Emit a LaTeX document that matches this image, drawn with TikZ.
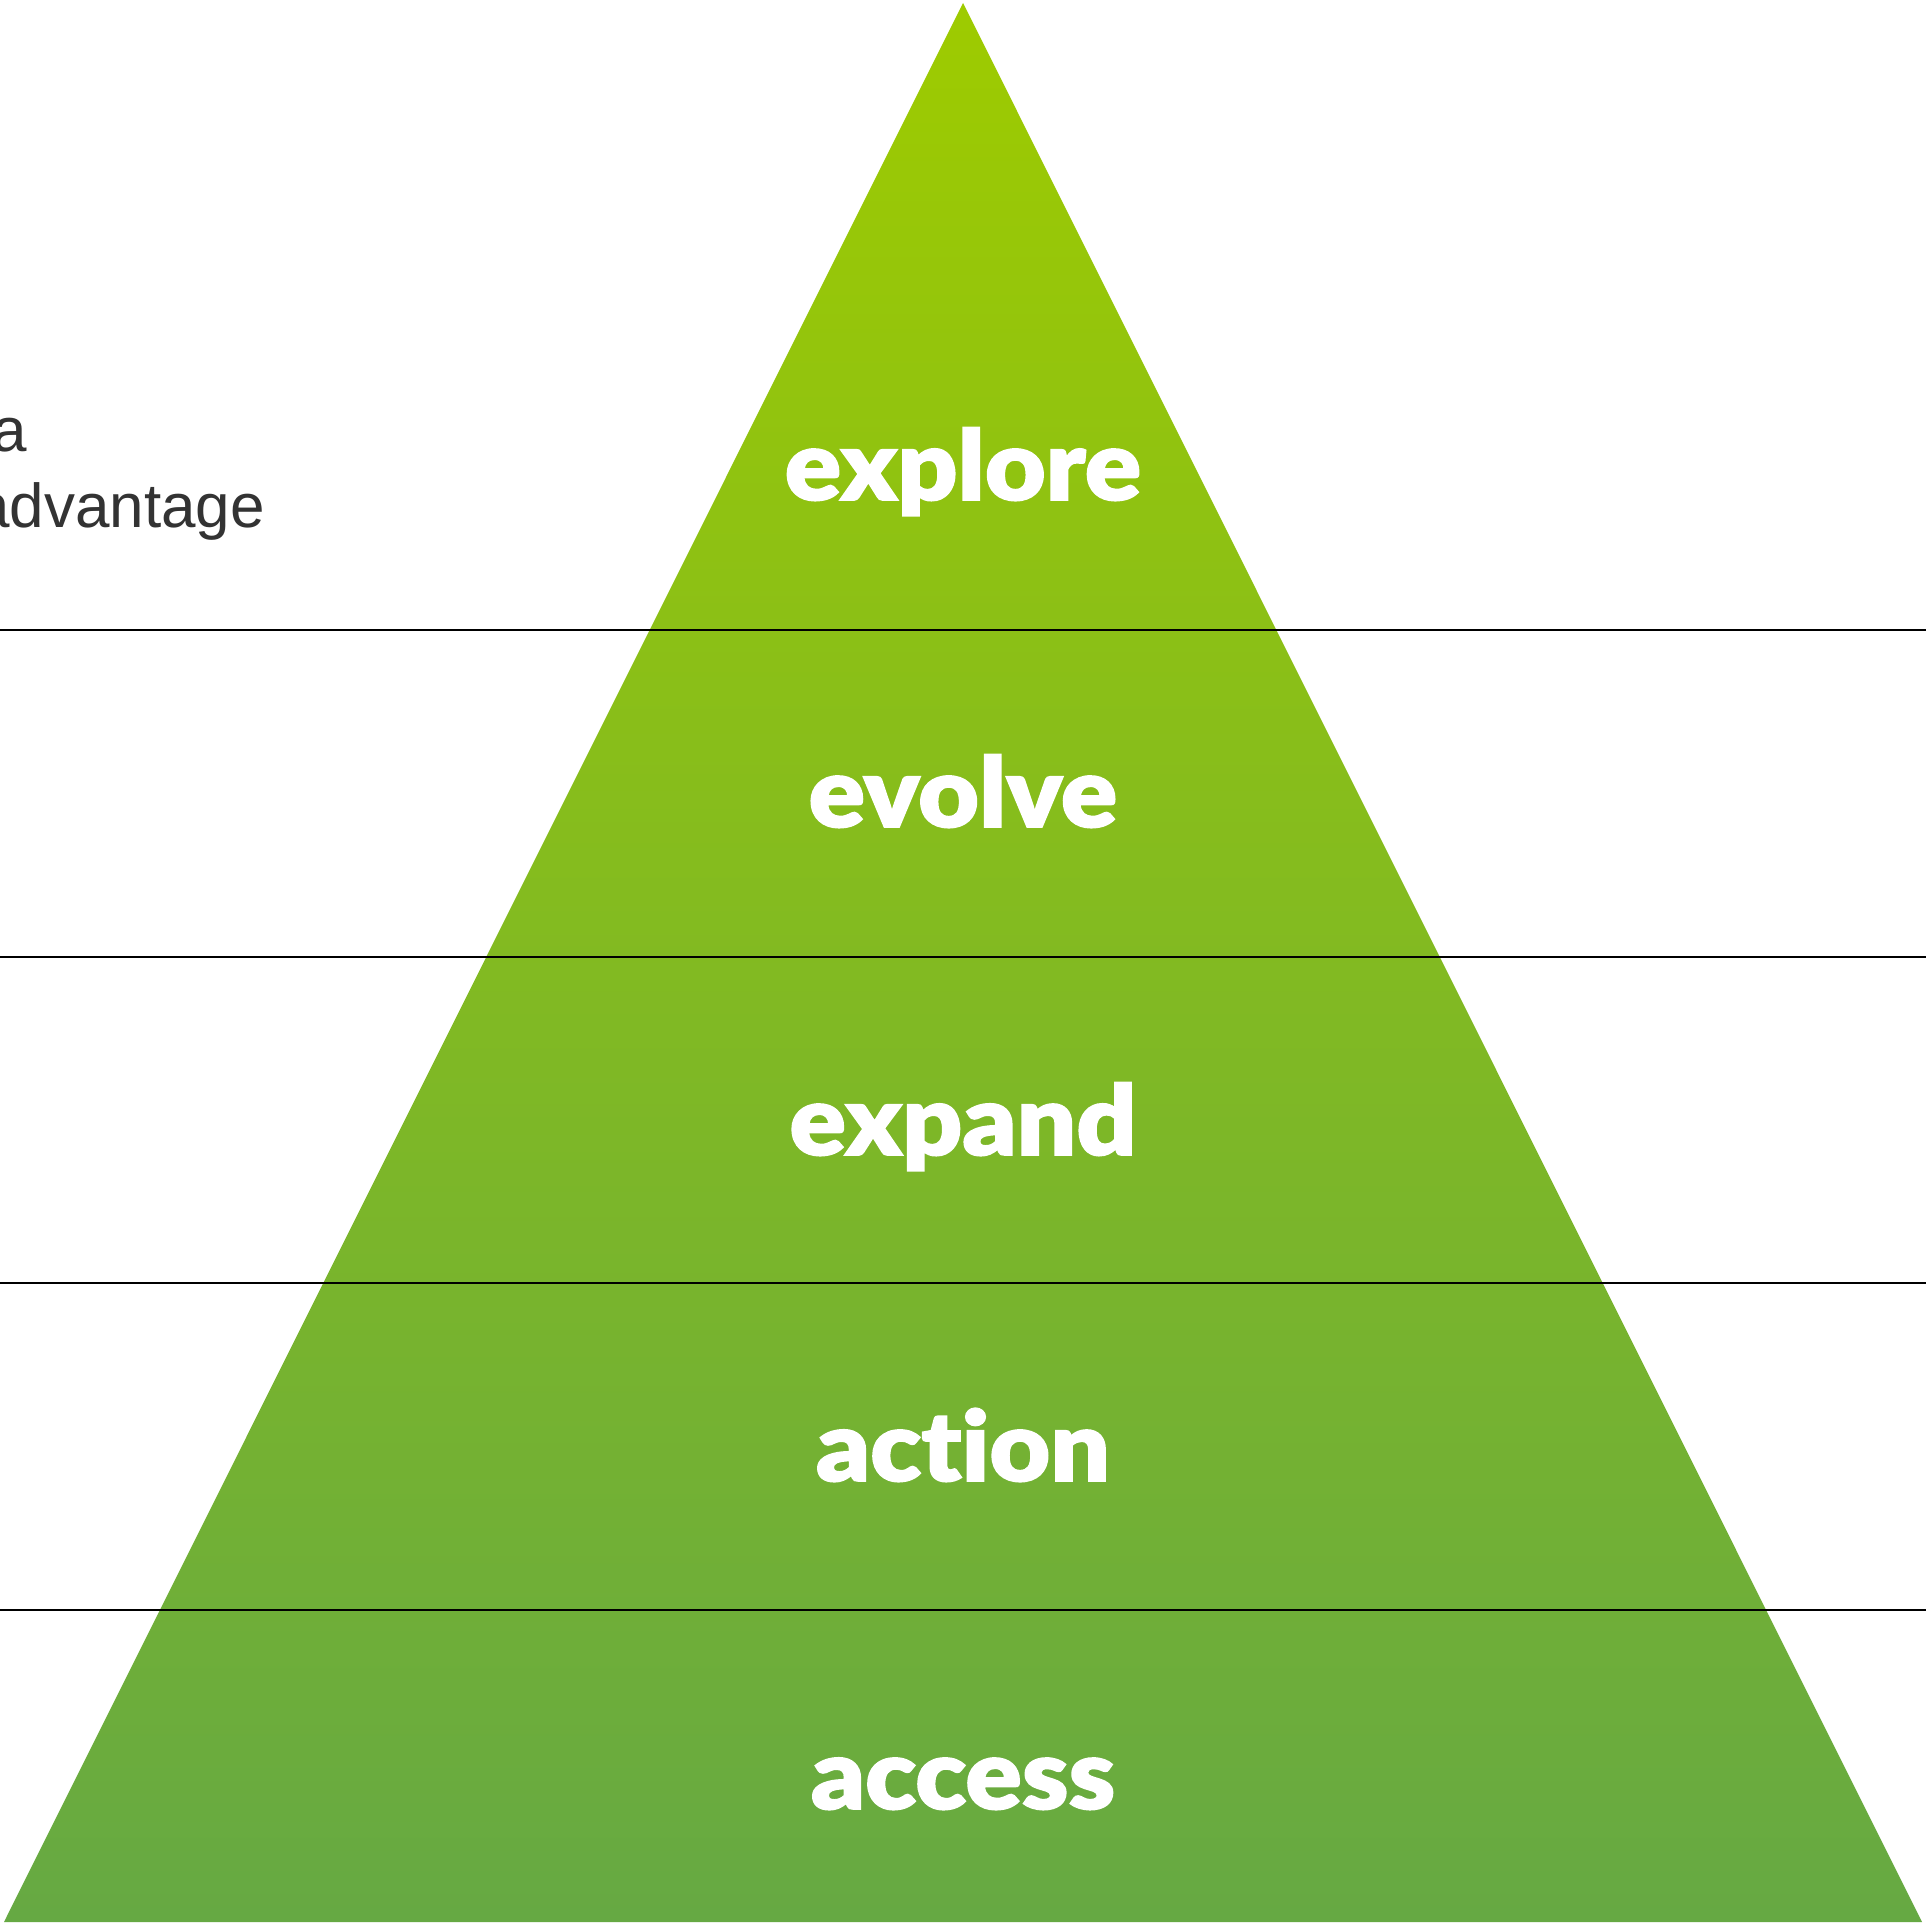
\documentclass[tikz,border=0pt]{standalone}
\usepackage{fontspec}
\IfFontExistsTF{Lato Black}{\newfontfamily\heavyfont{Lato Black}[Ligatures=NoCommon,FakeStretch=1.08,FakeBold=1.6]}{\newfontfamily\heavyfont{Liberation Sans}[UprightFont=*Bold]}
\newfontfamily\sidefont{Liberation Sans}
\definecolor{pyrtop}{RGB}{158,203,0}
\definecolor{pyrbot}{RGB}{102,169,67}
\definecolor{sidegrey}{RGB}{51,51,51}
\tikzset{
  level/.style={text=white,inner sep=0pt,anchor=base,font=\heavyfont\fontsize{97}{104}\selectfont},
  sidetext/.style={text=sidegrey,inner sep=0pt,anchor=base east,font=\sidefont\fontsize{62}{76}\selectfont},
  divider/.style={black,line width=2pt}
}
\begin{document}
\begin{tikzpicture}[x=1pt,y=1pt]
\useasboundingbox (0,0) rectangle (1926,1924);
\clip (0,0) rectangle (1926,1924);
\fill[white] (0,0) rectangle (1926,1924);
\coordinate (apex) at (963,1921);
\coordinate (bl) at (4,2);
\coordinate (br) at (1922,2);
\shade[top color=pyrtop,bottom color=pyrbot] (apex) -- (br) -- (bl) -- cycle;
\foreach \y [count=\i] in {1294,967,641,314}{
  \coordinate (l\i) at (0,\y);
  \coordinate (r\i) at (1926,\y);
  \draw[divider] (l\i) -- (r\i);
}
\node[level] (explore) at (963,1424) {explore};
\node[level] (evolve) at (963,1097) {evolve};
\node[level] (expand) at (963,769) {expand};
\node[level] (action) at (963,443) {action};
\node[level] (access) at (963,115) {access};
\node[sidetext] (sidea) at (27,1472) {a};
\node[sidetext] (sideadv) at (265,1396) {advantage};
\end{tikzpicture}
\end{document}
